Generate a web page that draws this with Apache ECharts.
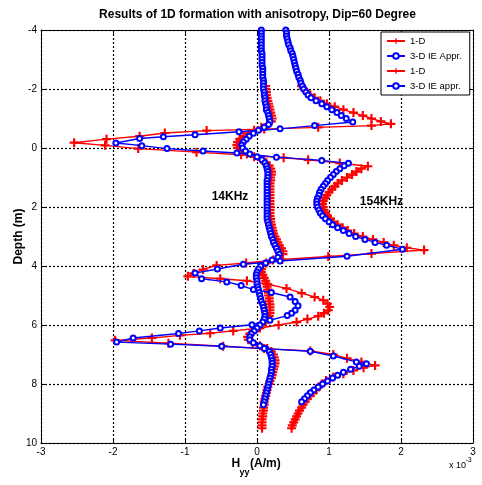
<!DOCTYPE html>
<html><head><meta charset="utf-8">
<script src="https://cdn.jsdelivr.net/npm/echarts@6/dist/echarts.min.js"></script>
<style>html,body{margin:0;padding:0;background:#fff}#c{width:482px;height:485px}</style>
</head><body><div id="c"></div>
<script>
// Tick values
const xTicks = [-3, -2, -1, 0, 1, 2, 3];          // Hyy, x 10^-3 A/m
const depthTicks = [-4, -2, 0, 2, 4, 6, 8, 10];    // Depth (m)

// Each pair: [depth (m), Hyy (x 10^-3 A/m)]
const red14 = [[-2.1,0.12],[-2.0,0.12],[-1.9,0.13],[-1.8,0.13],[-1.7,0.14],[-1.6,0.15],[-1.5,0.16],[-1.4,0.17],[-1.3,0.18],[-1.2,0.19],[-1.1,0.20],[-1.0,0.21],[-0.9,0.20],[-0.8,0.15],[-0.7,0.06],[-0.6,-0.04],[-0.5,-0.12],[-0.4,-0.19],[-0.3,-0.24],[-0.2,-0.27],[-0.1,-0.28],[0.0,-0.27],[0.1,-0.22],[0.2,-0.14],[0.3,-0.04],[0.4,0.06],[0.5,0.13],[0.6,0.17],[0.7,0.19],[0.8,0.20],[0.9,0.20],[1.0,0.19],[1.1,0.19],[1.2,0.18],[1.3,0.18],[1.4,0.18],[1.5,0.18],[1.6,0.18],[1.7,0.18],[1.8,0.18],[1.9,0.18],[2.0,0.18],[2.1,0.18],[2.2,0.18],[2.3,0.18],[2.4,0.19],[2.5,0.19],[2.6,0.20],[2.7,0.21],[2.8,0.22],[2.9,0.23],[3.0,0.25],[3.1,0.27],[3.2,0.29],[3.3,0.31],[3.4,0.34],[3.5,0.36],[3.6,0.36],[3.7,0.31],[3.8,0.22],[3.9,0.13],[4.0,0.08],[4.1,0.06],[4.2,0.06],[4.3,0.08],[4.4,0.10],[4.5,0.12],[4.6,0.13],[4.7,0.14],[4.8,0.15],[4.9,0.16],[5.0,0.16],[5.1,0.17],[5.2,0.17],[5.3,0.18],[5.4,0.18],[5.5,0.18],[5.6,0.18],[5.7,0.17],[5.8,0.15],[5.9,0.12],[6.0,0.07],[6.1,0.01],[6.2,-0.05],[6.3,-0.10],[6.4,-0.13],[6.5,-0.12],[6.6,-0.06],[6.7,0.04],[6.8,0.14],[6.9,0.20],[7.0,0.23],[7.1,0.24],[7.2,0.25],[7.3,0.25],[7.4,0.24],[7.5,0.23],[7.6,0.22],[7.7,0.21],[7.8,0.20],[7.9,0.18],[8.0,0.17],[8.1,0.15],[8.2,0.14],[8.3,0.13],[8.4,0.12],[8.5,0.11],[8.6,0.10],[8.7,0.10],[8.8,0.09],[8.9,0.09],[9.0,0.08],[9.1,0.08],[9.2,0.07],[9.3,0.07],[9.4,0.07],[9.5,0.07]];

const blue14 = [[-4.0,0.06],[-3.9,0.06],[-3.8,0.06],[-3.7,0.06],[-3.6,0.06],[-3.5,0.06],[-3.4,0.06],[-3.3,0.06],[-3.2,0.07],[-3.1,0.07],[-3.0,0.07],[-2.9,0.07],[-2.8,0.07],[-2.7,0.08],[-2.6,0.08],[-2.5,0.08],[-2.4,0.08],[-2.3,0.09],[-2.2,0.09],[-2.1,0.09],[-2.0,0.09],[-1.9,0.10],[-1.8,0.10],[-1.7,0.11],[-1.6,0.11],[-1.5,0.12],[-1.4,0.13],[-1.3,0.13],[-1.2,0.15],[-1.1,0.16],[-1.0,0.17],[-0.9,0.18],[-0.8,0.16],[-0.7,0.10],[-0.6,0.02],[-0.5,-0.05],[-0.4,-0.11],[-0.3,-0.15],[-0.2,-0.19],[-0.1,-0.21],[0.0,-0.20],[0.1,-0.16],[0.2,-0.10],[0.3,0.00],[0.4,0.07],[0.5,0.11],[0.6,0.13],[0.7,0.14],[0.8,0.15],[0.9,0.15],[1.0,0.15],[1.1,0.14],[1.2,0.14],[1.3,0.14],[1.4,0.14],[1.5,0.14],[1.6,0.14],[1.7,0.14],[1.8,0.14],[1.9,0.14],[2.0,0.14],[2.1,0.14],[2.2,0.14],[2.3,0.14],[2.4,0.14],[2.5,0.15],[2.6,0.16],[2.7,0.17],[2.8,0.18],[2.9,0.19],[3.0,0.20],[3.1,0.22],[3.2,0.23],[3.3,0.25],[3.4,0.27],[3.5,0.29],[3.6,0.31],[3.7,0.29],[3.8,0.21],[3.9,0.12],[4.0,0.05],[4.1,0.02],[4.2,0.00],[4.3,-0.01],[4.4,-0.01],[4.5,0.00],[4.6,0.00],[4.7,0.01],[4.8,0.02],[4.9,0.03],[5.0,0.04],[5.1,0.05],[5.2,0.06],[5.3,0.08],[5.4,0.09],[5.5,0.10],[5.6,0.11],[5.7,0.11],[5.8,0.10],[5.9,0.08],[6.0,0.04],[6.1,0.00],[6.2,-0.04],[6.3,-0.08],[6.4,-0.10],[6.5,-0.10],[6.6,-0.05],[6.7,0.04],[6.8,0.12],[6.9,0.17],[7.0,0.19],[7.1,0.20],[7.2,0.21],[7.3,0.21],[7.4,0.21],[7.5,0.20],[7.6,0.20],[7.7,0.19],[7.8,0.18],[7.9,0.17],[8.0,0.16],[8.1,0.15],[8.2,0.14],[8.3,0.13],[8.4,0.12],[8.5,0.11],[8.6,0.10],[8.7,0.09]];

const red154 = [[-2.1,0.62],[-2.0,0.65],[-1.9,0.69],[-1.8,0.74],[-1.7,0.80],[-1.6,0.88],[-1.5,0.97],[-1.4,1.08],[-1.3,1.20],[-1.2,1.34],[-1.1,1.47],[-1.0,1.59],[-0.9,1.72],[-0.82,1.86],[-0.76,1.59],[-0.70,0.85],[-0.64,0.10],[-0.59,-0.70],[-0.51,-1.28],[-0.40,-1.63],[-0.30,-2.09],[-0.18,-2.54],[-0.09,-2.11],[0.02,-1.65],[0.14,-0.84],[0.23,-0.22],[0.33,0.37],[0.40,0.71],[0.51,1.15],[0.62,1.54],[0.7,1.45],[0.8,1.38],[0.9,1.32],[1.0,1.25],[1.1,1.18],[1.2,1.12],[1.3,1.08],[1.4,1.04],[1.5,1.00],[1.6,0.97],[1.7,0.94],[1.8,0.92],[1.9,0.91],[2.0,0.92],[2.1,0.93],[2.2,0.95],[2.3,0.98],[2.4,1.02],[2.5,1.06],[2.6,1.12],[2.7,1.19],[2.8,1.26],[2.9,1.35],[3.0,1.47],[3.1,1.61],[3.2,1.76],[3.3,1.90],[3.38,2.08],[3.46,2.32],[3.58,1.59],[3.68,0.99],[3.78,0.35],[3.90,-0.15],[3.98,-0.56],[4.12,-0.75],[4.25,-0.88],[4.35,-0.96],[4.43,-0.51],[4.50,-0.14],[4.62,0.15],[4.76,0.41],[4.92,0.62],[5.05,0.80],[5.16,0.92],[5.28,0.98],[5.39,1.01],[5.5,0.99],[5.6,0.93],[5.7,0.85],[5.8,0.70],[5.9,0.55],[6.0,0.30],[6.1,0.04],[6.2,-0.33],[6.28,-0.65],[6.35,-1.07],[6.44,-1.46],[6.52,-1.97],[6.62,-1.23],[6.72,-0.47],[6.80,0.10],[6.88,0.74],[7.0,1.06],[7.13,1.25],[7.25,1.45],[7.37,1.64],[7.45,1.48],[7.54,1.34],[7.65,1.20],[7.76,1.06],[7.88,0.96],[8.0,0.90],[8.1,0.86],[8.2,0.82],[8.3,0.78],[8.4,0.74],[8.5,0.70],[8.6,0.67],[8.7,0.64],[8.8,0.62],[8.9,0.59],[9.0,0.57],[9.1,0.55],[9.2,0.53],[9.3,0.51],[9.4,0.49],[9.5,0.48]];

const blue154 = [[-4.0,0.40],[-3.9,0.41],[-3.8,0.41],[-3.7,0.42],[-3.6,0.43],[-3.5,0.44],[-3.4,0.46],[-3.3,0.47],[-3.2,0.49],[-3.1,0.50],[-3.0,0.51],[-2.9,0.52],[-2.8,0.53],[-2.7,0.54],[-2.6,0.55],[-2.5,0.57],[-2.4,0.58],[-2.3,0.60],[-2.2,0.61],[-2.1,0.63],[-2.0,0.65],[-1.9,0.68],[-1.8,0.71],[-1.7,0.75],[-1.6,0.82],[-1.5,0.90],[-1.4,0.97],[-1.3,1.04],[-1.2,1.11],[-1.1,1.17],[-1.0,1.24],[-0.88,1.33],[-0.76,0.80],[-0.65,0.32],[-0.55,-0.25],[-0.45,-0.86],[-0.38,-1.30],[-0.32,-1.63],[-0.17,-1.96],[-0.08,-1.60],[0.02,-1.25],[0.10,-0.75],[0.17,-0.28],[0.31,0.27],[0.42,0.90],[0.52,1.27],[0.6,1.21],[0.7,1.15],[0.8,1.10],[0.9,1.06],[1.0,1.02],[1.1,0.98],[1.2,0.95],[1.3,0.92],[1.4,0.89],[1.5,0.87],[1.6,0.86],[1.7,0.84],[1.8,0.83],[1.9,0.83],[2.0,0.84],[2.1,0.86],[2.2,0.88],[2.3,0.91],[2.4,0.95],[2.5,1.00],[2.6,1.05],[2.7,1.12],[2.8,1.20],[2.9,1.28],[3.0,1.37],[3.1,1.50],[3.2,1.64],[3.3,1.80],[3.43,2.02],[3.67,1.25],[3.83,0.32],[3.94,-0.19],[4.10,-0.55],[4.24,-0.86],[4.43,-0.77],[4.54,-0.42],[4.66,-0.22],[4.80,-0.05],[4.90,0.20],[5.05,0.46],[5.20,0.53],[5.35,0.57],[5.5,0.53],[5.6,0.48],[5.68,0.42],[5.84,0.18],[5.99,-0.07],[6.10,-0.51],[6.20,-0.80],[6.29,-1.09],[6.44,-1.72],[6.58,-1.95],[6.65,-1.20],[6.72,-0.49],[6.80,0.10],[6.89,0.74],[7.05,1.06],[7.25,1.38],[7.31,1.52],[7.4,1.42],[7.5,1.30],[7.6,1.20],[7.7,1.12],[7.8,1.05],[7.9,0.98],[8.0,0.91],[8.1,0.85],[8.2,0.79],[8.3,0.74],[8.4,0.70],[8.5,0.66],[8.6,0.62]];

const seriesNames = ['1-D', '3-D IE Appr.', '1-D ', '3-D IE appr.'];

const FONT = '"Liberation Sans", Arial, sans-serif';
const toXY = arr => arr.map(p => [p[1], p[0]]);
const plus = 'path://M3.8,0H6.2V3.8H10V6.2H6.2V10H3.8V6.2H0V3.8H3.8Z';

function redSeries(name, data) {
  return { name, type: 'line', data: toXY(data), symbol: plus, symbolSize: 9,
    lineStyle: { color: '#ff0000', width: 1.4 }, itemStyle: { color: '#ff0000', borderWidth: 0 },
    emphasis: { disabled: true }, z: 2 };
}
function blueSeries(name, data) {
  return { name, type: 'line', data: toXY(data), symbol: 'emptyCircle', symbolSize: 5,
    lineStyle: { color: '#0000ff', width: 1.4 }, itemStyle: { color: '#0000ff', borderColor: '#0000ff', borderWidth: 1.1 },
    emphasis: { disabled: true }, z: 3 };
}

const gridLine = { show: true, lineStyle: { color: '#000', type: [2, 2], width: 1.2 } };
const axisCommon = { axisLine: { show: true, onZero: false, lineStyle: { color: '#000', width: 1 } },
  axisTick: { show: true, inside: true, length: 4, lineStyle: { color: '#000', width: 1 } } };

const chart = echarts.init(document.getElementById('c'));
chart.setOption({
  animation: false,
  backgroundColor: '#fff',
  grid: { left: 41, right: 9, top: 30, bottom: 42 },
  xAxis: [
    Object.assign({ type: 'value', min: xTicks[0], max: xTicks[xTicks.length - 1], interval: 1, position: 'bottom',
      axisLabel: { color: '#000', fontSize: 10, fontFamily: FONT, margin: 4 }, splitLine: gridLine }, axisCommon),
    Object.assign({ type: 'value', min: xTicks[0], max: xTicks[xTicks.length - 1], interval: 1, position: 'top',
      axisLabel: { show: false }, splitLine: { show: false } }, axisCommon)
  ],
  yAxis: [
    Object.assign({ type: 'value', inverse: true, min: depthTicks[0], max: depthTicks[depthTicks.length - 1], interval: 2, position: 'left',
      axisLabel: { color: '#000', fontSize: 10, fontFamily: FONT, margin: 4 }, splitLine: gridLine }, axisCommon),
    Object.assign({ type: 'value', inverse: true, min: depthTicks[0], max: depthTicks[depthTicks.length - 1], interval: 2, position: 'right',
      axisLabel: { show: false }, splitLine: { show: false } }, axisCommon)
  ],
  legend: {
    orient: 'vertical', left: 381, top: 32, data: seriesNames,
    backgroundColor: '#fff', borderColor: '#000', borderWidth: 1, borderRadius: 0,
    padding: [3, 8, 3, 5], itemWidth: 18, itemHeight: 7, itemGap: 3,
    textStyle: { fontSize: 9.5, lineHeight: 12, fontFamily: FONT, color: '#000' }, selectedMode: false
  },
  series: [
    redSeries(seriesNames[0], red14),
    blueSeries(seriesNames[1], blue14),
    redSeries(seriesNames[2], red154),
    blueSeries(seriesNames[3], blue154)
  ],
  graphic: [
    { type: 'text', x: 257.5, y: 15, style: { text: 'Results of 1D formation with anisotropy, Dip=60 Degree', font: 'bold 12px ' + FONT, fill: '#000', textAlign: 'center', textVerticalAlign: 'middle', align: 'center', verticalAlign: 'middle' } },
    { type: 'text', x: 19, y: 236.5, rotation: Math.PI / 2, style: { text: 'Depth (m)', font: 'bold 12px ' + FONT, fill: '#000', textAlign: 'center', textVerticalAlign: 'middle', align: 'center', verticalAlign: 'middle' } },
    { type: 'text', x: 231.5, y: 464, style: { text: 'H', font: 'bold 12px ' + FONT, fill: '#000', textAlign: 'left', textVerticalAlign: 'middle', align: 'left', verticalAlign: 'middle' } },
    { type: 'text', x: 239.5, y: 472.5, style: { text: 'yy', font: 'bold 9px ' + FONT, fill: '#000', textAlign: 'left', textVerticalAlign: 'middle', align: 'left', verticalAlign: 'middle' } },
    { type: 'text', x: 250, y: 464, style: { text: '(A/m)', font: 'bold 12px ' + FONT, fill: '#000', textAlign: 'left', textVerticalAlign: 'middle', align: 'left', verticalAlign: 'middle' } },
    { type: 'text', x: 449, y: 466, style: { text: 'x 10', font: '9px ' + FONT, fill: '#000', textAlign: 'left', textVerticalAlign: 'middle', align: 'left', verticalAlign: 'middle' } },
    { type: 'text', x: 465.5, y: 460, style: { text: '-3', font: '7px ' + FONT, fill: '#000', textAlign: 'left', textVerticalAlign: 'middle', align: 'left', verticalAlign: 'middle' } },
    { type: 'text', x: 230, y: 197, style: { text: '14KHz', font: 'bold 12px ' + FONT, fill: '#000', textAlign: 'center', textVerticalAlign: 'middle', align: 'center', verticalAlign: 'middle' } },
    { type: 'text', x: 381.5, y: 202, style: { text: '154KHz', font: 'bold 12px ' + FONT, fill: '#000', textAlign: 'center', textVerticalAlign: 'middle', align: 'center', verticalAlign: 'middle' } }
  ]
});
</script>
</body></html>
